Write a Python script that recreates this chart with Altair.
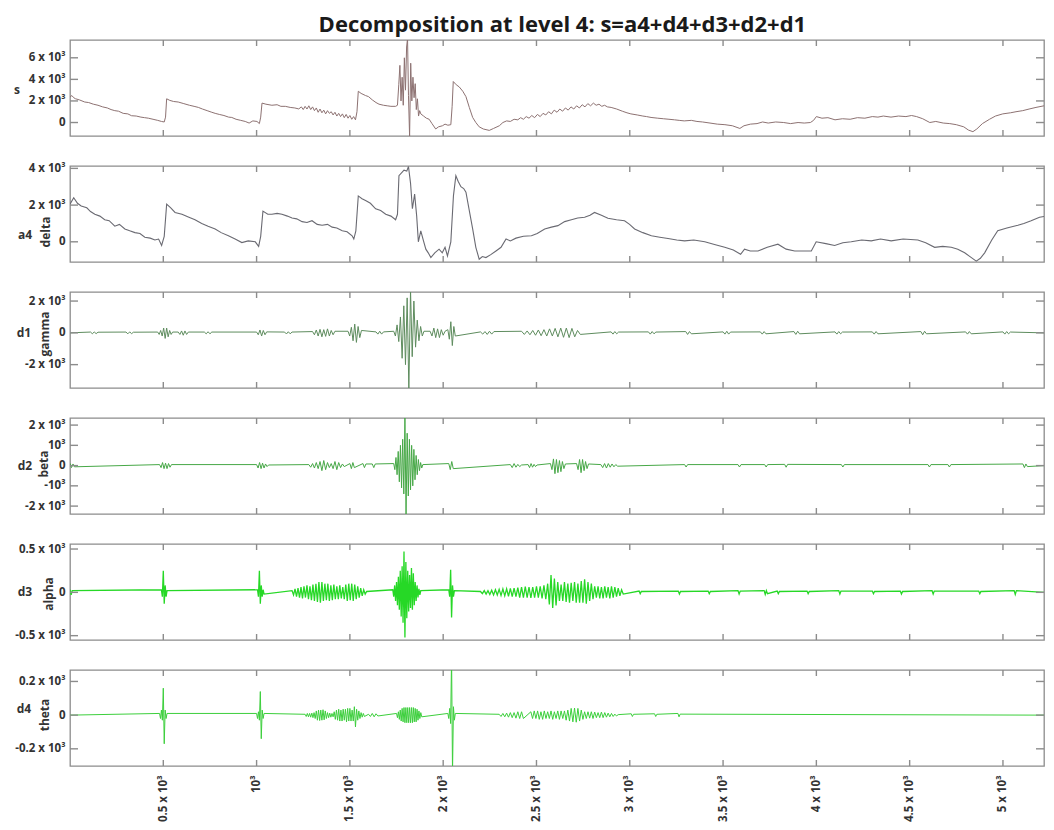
import altair as alt
import pandas as pd

XMAX = 5220
PANEL_W = 974
PANEL_H = 96

X_TICKS = [500, 1000, 1500, 2000, 2500, 3000, 3500, 4000, 4500, 5000]

S_TICKS = [0, 2, 4, 6]
A4_TICKS = [0, 2, 4]
D1_TICKS = [-2, 0, 2]
D2_TICKS = [-2, -1, 0, 1, 2]
D3_TICKS = [-0.5, 0, 0.5]
D4_TICKS = [-0.2, 0, 0.2]

S_DOMAIN = [-1.25, 7.65]
A4_DOMAIN = [-1.1, 4.13]
D1_DOMAIN = [-3.47, 2.57]
D2_DOMAIN = [-2.39, 2.35]
D3_DOMAIN = [-0.55, 0.558]
D4_DOMAIN = [-0.302, 0.268]

# signal s (x = sample, y in units of 10^3)
S_PTS = [
    (0, 2.35), (10, 2.5), (20, 2.3), (30, 2.2), (50, 2.1), (79, 1.9), (100, 1.85), (125, 1.7),
    (150, 1.6), (175, 1.45), (200, 1.35), (220, 1.2), (240, 1.1), (260, 1.05), (285, 0.85),
    (310, 0.8), (330, 0.63), (355, 0.6), (380, 0.5), (400, 0.45), (420, 0.4), (445, 0.3),
    (470, 0.2), (490, 0.1), (505, 0.05), (512, 0.5), (518, 2.2), (535, 2.05), (555, 1.95),
    (580, 1.9), (610, 1.75), (640, 1.6), (665, 1.5), (688, 1.4), (710, 1.25), (735, 1.1),
    (760, 0.95), (778, 0.85), (800, 0.75), (825, 0.65), (850, 0.5), (867, 0.47), (890, 0.3),
    (915, 0.2), (939, 0.1), (960, -0.05), (980, 0.15), (1002, 0.1), (1015, -0.1), (1022, 0.5),
    (1029, 1.8), (1050, 1.7), (1082, 1.6), (1110, 1.65), (1130, 1.5), (1154, 1.5), (1180, 1.4),
    (1205, 1.35), (1226, 1.26), (1240, 1.45), (1250, 1.2), (1260, 1.5), (1270, 1.25),
    (1280, 1.55), (1290, 1.2), (1300, 1.45), (1310, 1.1), (1320, 1.35), (1330, 0.95),
    (1340, 1.25), (1350, 0.9), (1360, 1.15), (1370, 0.8), (1380, 1.1), (1390, 0.85),
    (1400, 1.0), (1410, 0.7), (1420, 0.95), (1430, 0.6), (1440, 0.85), (1450, 0.55),
    (1460, 0.8), (1470, 0.45), (1480, 0.75), (1490, 0.4), (1500, 0.65), (1510, 0.3),
    (1520, 0.55), (1530, 0.25), (1538, 1.0), (1545, 2.9), (1560, 2.7), (1584, 2.5),
    (1600, 2.4), (1620, 2.1), (1640, 1.85), (1656, 1.7), (1680, 1.6), (1700, 1.55),
    (1720, 1.5), (1745, 1.5), (1755, 1.6), (1762, 3.5), (1768, 5.3), (1774, 2.0), (1780, 4.2),
    (1786, 1.6), (1792, 6.0), (1798, 3.0), (1804, 7.0), (1809, 7.8), (1814, 2.5), (1820, -1.3),
    (1826, 5.5), (1832, 2.0), (1838, 4.2), (1844, 2.3), (1850, 3.6), (1856, 1.2), (1862, 2.2),
    (1868, 0.6), (1874, 1.1), (1880, 0.8), (1895, 0.6), (1910, 0.4), (1925, 0.3), (1940, -0.1),
    (1960, -0.6), (1975, -0.4), (1996, -0.3), (2010, -0.15), (2025, -0.25), (2041, -0.2),
    (2048, 1.5), (2054, 3.8), (2070, 3.5), (2086, 3.3), (2105, 2.9), (2122, 2.4), (2140, 1.4),
    (2158, 0.47), (2175, 0.0), (2193, -0.4), (2215, -0.6), (2247, -0.73), (2270, -0.55),
    (2301, -0.3), (2320, 0.0), (2340, 0.15), (2360, 0.1), (2380, 0.3), (2400, 0.25),
    (2415, 0.45), (2430, 0.3), (2445, 0.55), (2460, 0.4), (2475, 0.65), (2490, 0.45),
    (2505, 0.75), (2520, 0.55), (2535, 0.85), (2550, 0.7), (2565, 1.0), (2580, 0.8),
    (2595, 1.15), (2610, 0.95), (2625, 1.25), (2640, 1.05), (2655, 1.35), (2670, 1.15),
    (2685, 1.45), (2700, 1.25), (2715, 1.55), (2730, 1.35), (2745, 1.65), (2760, 1.45),
    (2775, 1.75), (2790, 1.55), (2805, 1.8), (2820, 1.6), (2835, 1.7), (2850, 1.5),
    (2865, 1.6), (2880, 1.45), (2900, 1.4), (2930, 1.25), (2960, 1.05), (2985, 0.9),
    (3006, 0.8), (3040, 0.7), (3070, 0.6), (3090, 0.55), (3114, 0.47), (3150, 0.4),
    (3180, 0.35), (3210, 0.3), (3240, 0.25), (3265, 0.2), (3292, 0.15), (3330, 0.2),
    (3360, 0.1), (3390, 0.05), (3430, -0.05), (3469, -0.15), (3510, -0.2), (3550, -0.3),
    (3590, -0.55), (3612, -0.3), (3647, -0.15), (3682, -0.1), (3712, 0.05), (3742, -0.05),
    (3782, 0.05), (3825, 0.0), (3862, -0.1), (3902, 0.0), (3935, -0.05), (3968, 0.0),
    (3985, 0.2), (4000, 0.55), (4030, 0.4), (4062, 0.45), (4100, 0.25), (4140, 0.35),
    (4181, 0.3), (4220, 0.45), (4260, 0.4), (4300, 0.55), (4330, 0.5), (4359, 0.6),
    (4400, 0.5), (4440, 0.6), (4480, 0.55), (4510, 0.65), (4537, 0.55), (4570, 0.35),
    (4608, 0.0), (4640, 0.1), (4680, -0.05), (4715, -0.1), (4750, -0.2), (4790, -0.4),
    (4815, -0.7), (4839, -0.85), (4860, -0.6), (4890, -0.1), (4928, 0.3), (4960, 0.6),
    (4999, 0.8), (5040, 0.9), (5070, 1.0), (5106, 1.1), (5140, 1.25), (5177, 1.4),
    (5220, 1.55),
]

# approximation a4 (delta)
A4_PTS = [
    (0, 2.05), (20, 2.4), (40, 2.1), (60, 1.95), (90, 1.85), (110, 1.65), (133, 1.5),
    (160, 1.4), (186, 1.2), (210, 1.15), (240, 0.85), (265, 0.95), (294, 0.7), (320, 0.6),
    (348, 0.5), (375, 0.45), (401, 0.25), (430, 0.2), (455, 0.1), (475, 0.15), (491, -0.2),
    (505, 0.3), (518, 2.05), (540, 1.85), (563, 1.6), (600, 1.5), (634, 1.35), (670, 1.2),
    (706, 1.0), (740, 0.85), (778, 0.7), (810, 0.5), (849, 0.33), (885, 0.15), (921, -0.04),
    (955, 0.05), (993, 0.0), (1011, -0.25), (1022, 0.3), (1034, 1.67), (1060, 1.5),
    (1082, 1.5), (1110, 1.55), (1136, 1.5), (1165, 1.4), (1190, 1.3), (1215, 1.25),
    (1244, 1.1), (1270, 1.05), (1297, 1.15), (1325, 0.95), (1351, 0.9), (1380, 0.95),
    (1405, 0.8), (1430, 0.75), (1459, 0.6), (1485, 0.55), (1512, 0.33), (1521, 0.15),
    (1532, 0.6), (1545, 2.5), (1565, 2.35), (1584, 2.25), (1610, 2.1), (1638, 1.8),
    (1665, 1.7), (1692, 1.5), (1720, 1.4), (1745, 1.2), (1755, 1.5), (1763, 3.6),
    (1790, 3.9), (1805, 3.85), (1814, 4.1), (1825, 3.2), (1835, 1.8), (1847, 2.6),
    (1858, 1.4), (1867, 0.0), (1880, 0.6), (1893, 0.1), (1907, -0.4), (1920, -0.6),
    (1934, -0.86), (1955, -0.6), (1978, -0.4), (1995, -0.6), (2010, -0.3), (2023, -0.77),
    (2041, 0.0), (2055, 2.5), (2068, 3.6), (2080, 3.3), (2095, 3.0), (2110, 2.9),
    (2122, 2.7), (2140, 1.7), (2158, 0.7), (2175, -0.3), (2193, -0.95), (2210, -0.8),
    (2229, -0.86), (2255, -0.7), (2283, -0.5), (2310, -0.3), (2337, 0.15), (2360, 0.05),
    (2390, 0.2), (2430, 0.3), (2473, 0.33), (2504, 0.45), (2544, 0.7), (2580, 0.8),
    (2615, 0.88), (2651, 1.1), (2687, 1.2), (2721, 1.3), (2758, 1.34), (2787, 1.45),
    (2811, 1.6), (2848, 1.45), (2883, 1.28), (2929, 1.2), (2972, 1.15), (2999, 0.95),
    (3026, 0.7), (3070, 0.5), (3116, 0.33), (3161, 0.25), (3205, 0.18), (3252, 0.1),
    (3294, 0.05), (3343, 0.1), (3402, 0.0), (3454, -0.15), (3509, -0.3), (3555, -0.45),
    (3594, -0.68), (3615, -0.4), (3646, -0.5), (3687, -0.5), (3737, -0.3), (3794, -0.13),
    (3838, -0.4), (3884, -0.5), (3929, -0.5), (3973, -0.5), (3999, 0.0), (4051, -0.1),
    (4098, -0.2), (4142, -0.05), (4187, 0.0), (4243, 0.1), (4294, 0.05), (4344, 0.15),
    (4401, 0.05), (4465, 0.15), (4544, 0.1), (4586, -0.05), (4634, -0.3), (4677, -0.25),
    (4723, -0.3), (4758, -0.4), (4795, -0.6), (4829, -0.85), (4857, -1.05), (4879, -0.9),
    (4902, -0.6), (4940, 0.1), (4972, 0.6), (5021, 0.75), (5080, 0.9), (5112, 1.0),
    (5151, 1.15), (5196, 1.34), (5220, 1.38),
]

# detail bursts: (start sample, sample step, values in 10^3)
D1_BURSTS = [
    (110, 10, [0.05, -0.06, 0.06, -0.05, 0.04]),
    (300, 10, [0.05, -0.06, 0.06, -0.05, 0.04]),
    (470, 8, [0.05, -0.1, 0.15, -0.2, 0.3, -0.35, 0.3, -0.25, 0.15, -0.1, 0.05]),
    (580, 9, [0.05, -0.1, 0.12, -0.15, 0.12, -0.1, 0.05]),
    (720, 10, [0.05, -0.06, 0.07, -0.06, 0.05]),
    (1000, 9, [0.05, -0.12, 0.18, -0.2, 0.15, -0.12, 0.06]),
    (1150, 10, [0.05, -0.07, 0.07, -0.06, 0.05]),
    (1300, 10, [0.08, -0.12, 0.18, -0.2, 0.22, -0.25, 0.2, -0.22, 0.25, -0.2, 0.15, -0.12, 0.1]),
    (1490, 9, [0.1, -0.2, 0.35, -0.5, 0.55, -0.6, 0.4, -0.3, 0.15]),
    (1640, 10, [0.06, -0.08, 0.1, -0.08, 0.06]),
    (1735, 9, [0.1, -0.2, 0.5, -0.55, 1.0, -1.6, 1.7, -2.0, 2.2, -3.6, 2.7, -1.5, 2.0,
               -0.9, 0.8, -0.5, 0.4, -0.2, 0.1]),
    (1930, 10, [0.1, -0.2, 0.3, -0.3, 0.25, -0.3, 0.2, -0.15, 0.1]),
    (2025, 8, [0.2, -0.4, 0.7, -0.8, 0.4, -0.2]),
    (2200, 12, [0.06, -0.08, 0.08, -0.1, 0.1, -0.08, 0.08]),
    (2420, 15, [0.1, -0.1, 0.12, -0.12, 0.15, -0.15, 0.18, -0.18, 0.2, -0.2, 0.25, -0.2,
                0.28, -0.25, 0.3, -0.28, 0.3, -0.3, 0.28, -0.25, 0.15, -0.1]),
    (2900, 10, [0.06, -0.08, 0.08, -0.06, 0.05]),
    (3100, 10, [0.06, -0.08, 0.08, -0.06, 0.05]),
    (3300, 10, [0.08, -0.1, 0.08, -0.06]),
    (3500, 10, [0.06, -0.08, 0.1, -0.08, 0.05]),
    (3700, 10, [0.06, -0.08, 0.08, -0.06]),
    (3880, 10, [0.08, -0.1, 0.1, -0.06]),
    (4100, 10, [0.06, -0.08, 0.08, -0.06, 0.05]),
    (4300, 10, [0.06, -0.08, 0.08, -0.06]),
    (4560, 10, [0.08, -0.12, 0.1, -0.06]),
    (4800, 10, [0.06, -0.08, 0.08, -0.06]),
    (5000, 10, [0.06, -0.08, 0.08, -0.06, 0.05]),
]

D2_BURSTS = [
    (0, 8, [0.1, -0.1, 0.08, -0.06]),
    (480, 8, [0.05, -0.1, 0.15, -0.15, 0.12, -0.15, 0.1, -0.08, 0.05]),
    (1000, 8, [0.05, -0.12, 0.15, -0.15, 0.12, -0.12, 0.08, -0.05, 0.03]),
    (1280, 10, [0.05, -0.08, 0.1, -0.12, 0.15, -0.15, 0.2, -0.25, 0.25, -0.2, 0.15, -0.1,
                0.1, -0.15, 0.2, -0.2, 0.15, -0.1, 0.08, -0.05]),
    (1500, 8, [0.1, -0.15, 0.15, -0.1]),
    (1570, 8, [0.1, -0.1, 0.08]),
    (1620, 8, [0.08, -0.1, 0.08]),
    (1735, 6, [0.1, -0.2, 0.4, -0.45, 0.7, -0.8, 1.0, -1.1, 1.3, -1.4, 2.4, -2.5, 1.6,
               -1.5, 1.3, -1.2, 1.0, -1.0, 0.8, -0.7, 0.5, -0.45, 0.3, -0.25, 0.15, -0.12,
               0.05]),
    (2030, 8, [0.1, -0.2, 0.2, -0.15]),
    (2360, 10, [0.05, -0.1, 0.1, -0.08, 0.06, -0.05, 0.03]),
    (2455, 8, [0.05, -0.1, 0.1, -0.08, 0.06, -0.05, 0.03]),
    (2575, 8, [0.1, -0.2, 0.33, -0.4, 0.3, -0.35, 0.25, -0.3, 0.2, -0.15, 0.08]),
    (2715, 8, [0.1, -0.2, 0.3, -0.35, 0.3, -0.25, 0.2, -0.15, 0.08]),
    (2845, 10, [0.05, -0.1, 0.1, -0.12, 0.1, -0.08, 0.08, -0.06, 0.05, -0.03]),
    (3294, 8, [0.05, -0.07, 0.05]),
    (3580, 8, [0.05, -0.07, 0.05]),
    (3723, 8, [0.05, -0.07, 0.05]),
    (3830, 8, [0.06, -0.08, 0.06]),
    (4134, 8, [0.05, -0.07, 0.05]),
    (4598, 8, [0.05, -0.07, 0.05]),
    (4705, 8, [0.05, -0.07, 0.05]),
    (5107, 8, [0.08, -0.1, 0.08, -0.05]),
]

D3_BURSTS = [
    (0, 6, [0.03, -0.03, 0.02]),
    (490, 5, [0.03, -0.05, 0.25, -0.13, 0.08, -0.05, 0.02]),
    (1005, 5, [0.03, -0.05, 0.25, -0.13, 0.08, -0.05, 0.03, -0.02]),
    (1190, 8, [0.02, -0.03, 0.04, -0.05, 0.05, -0.06, 0.06, -0.07, 0.07, -0.06,
               0.08, -0.08, 0.07, -0.09, 0.09, -0.1, 0.1, -0.11, 0.12, -0.12,
               0.12, -0.1, 0.1, -0.09, 0.1, -0.1, 0.08, -0.09, 0.09, -0.08,
               0.07, -0.08, 0.08, -0.07, 0.06, -0.08, 0.09, -0.1, 0.1, -0.09,
               0.1, -0.1, 0.09, -0.08, 0.07, -0.06, 0.05, -0.04, 0.03, -0.02, 0.01]),
    (1730, 5, [0.03, -0.05, 0.08, -0.1, 0.12, -0.15, 0.18, -0.2, 0.25, -0.28, 0.3, -0.35,
               0.47, -0.52, 0.35, -0.3, 0.25, -0.22, 0.2, -0.18, 0.28, -0.2, 0.22, -0.15,
               0.12, -0.1, 0.08, -0.06, 0.04, -0.03, 0.02]),
    (2030, 5, [0.03, -0.05, 0.26, -0.29, 0.08, -0.05, 0.02]),
    (2200, 10, [0.01, -0.015, 0.02, -0.02, 0.02, -0.025, 0.025, -0.03, 0.03, -0.03, 0.035,
                -0.035, 0.04, -0.04, 0.04, -0.045, 0.045, -0.05, 0.05, -0.05, 0.055, -0.06,
                0.06, -0.06, 0.065, -0.06, 0.06, -0.065, 0.06, -0.06, 0.07, -0.06, 0.07,
                -0.07, 0.08, -0.08]),
    (2560, 9, [0.1, -0.14, 0.2, -0.18, 0.16, -0.15, 0.12, -0.1, 0.09, -0.1, 0.12, -0.11,
               0.1, -0.12, 0.11, -0.1, 0.12, -0.12, 0.1, -0.12, 0.13, -0.12, 0.15, -0.13,
               0.12, -0.1, 0.1, -0.08, 0.07, -0.06, 0.07, -0.07, 0.06, -0.07, 0.07, -0.06,
               0.06, -0.07, 0.07, -0.06, 0.06, -0.05, 0.05, -0.04, 0.03, -0.02]),
    (3050, 6, [0.015, -0.015, 0.01]),
    (3260, 6, [0.015, -0.02, 0.01]),
    (3420, 6, [0.015, -0.015, 0.01]),
    (3580, 6, [0.02, -0.02, 0.015]),
    (3720, 6, [0.02, -0.025, 0.02, -0.015]),
    (3790, 6, [0.015, -0.015, 0.01]),
    (3950, 6, [0.015, -0.015, 0.01]),
    (4120, 6, [0.02, -0.02, 0.015]),
    (4300, 6, [0.015, -0.015, 0.01]),
    (4450, 6, [0.015, -0.02, 0.01]),
    (4620, 6, [0.02, -0.02, 0.015]),
    (4870, 6, [0.015, -0.015, 0.01]),
    (5060, 6, [0.02, -0.025, 0.02]),
]

D4_BURSTS = [
    (480, 5, [0.01, -0.02, 0.03, -0.03, 0.16, -0.17, 0.03, -0.02, 0.01]),
    (1000, 5, [0.01, -0.02, 0.02, -0.03, 0.14, -0.14, 0.03, -0.02, 0.01]),
    (1260, 6, [0.005, -0.008, 0.01, -0.01, 0.01, -0.012, 0.012, -0.015, 0.015, -0.02,
               0.025, -0.03, 0.03, -0.032, 0.03, -0.03, 0.032, -0.028, 0.025, -0.02,
               0.015, -0.015, 0.012, -0.012, 0.01, -0.01]),
    (1416, 6, [0.02, -0.025, 0.03, -0.03, 0.035, -0.035, 0.03, -0.035, 0.035, -0.03,
               0.035, -0.04, 0.04, -0.035, 0.04, -0.035, 0.03, -0.035, 0.05, -0.07,
               0.035, -0.03, 0.025, -0.02, 0.015, -0.012, 0.01, -0.008]),
    (1600, 10, [0.005, -0.008, 0.01, -0.01, 0.008, -0.005]),
    (1750, 5, [0.01, -0.015, 0.02, -0.025, 0.03, -0.035, 0.04, -0.04, 0.045, -0.045,
               0.045, -0.045, 0.045, -0.045, 0.045, -0.045, 0.045, -0.045, 0.045, -0.04,
               0.04, -0.04, 0.035, -0.03, 0.025, -0.02, 0.015, -0.01]),
    (2025, 5, [0.01, -0.02, 0.04, -0.05, 0.35, -0.35, 0.05, -0.03, 0.01]),
    (2300, 10, [0.005, -0.008, 0.01, -0.01, 0.012, -0.012, 0.015, -0.015, 0.015, -0.018,
                0.02, -0.02, 0.02, -0.02]),
    (2470, 9, [0.02, -0.02, 0.025, -0.02, 0.025, -0.025, 0.02, -0.025, 0.025, -0.02,
               0.02, -0.02, 0.025, -0.025, 0.02, -0.02, 0.025, -0.025, 0.025, -0.02,
               0.025, -0.03, 0.03, -0.035, 0.04, -0.04, 0.042, -0.042, 0.04, -0.035,
               0.03, -0.025, 0.02, -0.02, 0.02, -0.018, 0.02, -0.02, 0.018, -0.015,
               0.015, -0.015, 0.018, -0.015, 0.015, -0.012, 0.012, -0.01, 0.01, -0.008,
               0.006, -0.005, 0.003]),
    (3008, 6, [0.008, -0.008, 0.005]),
    (3133, 6, [0.008, -0.008, 0.005]),
    (3258, 6, [0.01, -0.01, 0.006]),
]

# label text per panel: (text, x offset, y offset, angle)
S_LABELS = [("s", -53, 50, 0)]
A4_LABELS = [("a4", -45, 69, 0), ("delta", -24, 66, 270)]
D1_LABELS = [("d1", -46, 41, 0), ("gamma", -25, 42, 270)]
D2_LABELS = [("d2", -45, 48, 0), ("beta", -26, 46, 270)]
D3_LABELS = [("d3", -45, 48, 0), ("alpha", -21, 50, 270)]
D4_LABELS = [("d4", -46, 39, 0), ("theta", -25, 45, 270)]

TITLE = "Decomposition at level 4: s=a4+d4+d3+d2+d1"

FRAME = "#8c8c8c"
FONT = "Open Sans"
TXT = "#333333"
TICK_FS = 11.5


def pts_df(pts):
    return pd.DataFrame(pts, columns=["x", "y"])


def burst_df(bursts):
    xs, ys = [0], [0.0]
    for x0, step, vals in bursts:
        for i, v in enumerate(vals):
            xs.append(x0 + i * step)
            ys.append(v)
    xs.append(XMAX)
    ys.append(0.0)
    return pd.DataFrame({"x": xs, "y": ys})


Y_LABEL_EXPR = ("datum.value == 0 ? '0' : (abs(datum.value) == 1 ? "
                "(datum.value < 0 ? '-10³' : '10³') : datum.value + ' x 10³')")
X_LABEL_EXPR = "datum.value == 1000 ? '10³' : (datum.value / 1000) + ' x 10³'"


def panel(df, domain, yticks, color, labels, width=1.0, bottom=False):
    xscale = alt.Scale(domain=[0, XMAX], nice=False, zero=False)
    yscale = alt.Scale(domain=domain, nice=False, zero=False)
    if bottom:
        xaxis = alt.Axis(values=X_TICKS, labelExpr=X_LABEL_EXPR, labelAngle=270,
                         labelAlign="right", labelBaseline="middle", labelPadding=9,
                         ticks=False, domain=False, grid=False, title=None,
                         labelFlush=False, labelOverlap=False, labelFont=FONT,
                         labelFontSize=TICK_FS, labelFontWeight="bold", labelColor=TXT)
    else:
        xaxis = None
    yaxis = alt.Axis(values=yticks, labelExpr=Y_LABEL_EXPR, ticks=False, domain=False,
                     grid=False, title=None, labelPadding=5, labelFlush=False,
                     labelOverlap=False, labelFont=FONT, labelFontSize=TICK_FS,
                     labelFontWeight="bold", labelColor=TXT)
    line = alt.Chart(df).mark_line(color=color, strokeWidth=width, clip=True).encode(
        x=alt.X("x:Q", scale=xscale, axis=xaxis),
        y=alt.Y("y:Q", scale=yscale, axis=yaxis),
    )
    xt = pd.DataFrame({"x": X_TICKS})
    yt = pd.DataFrame({"y": yticks})
    tick_style = dict(color=FRAME, strokeWidth=1.4)
    xb = alt.Chart(xt).mark_rule(**tick_style).encode(
        x=alt.X("x:Q", scale=xscale, axis=xaxis),
        y=alt.value(PANEL_H), y2=alt.value(PANEL_H - 6))
    xtp = alt.Chart(xt).mark_rule(**tick_style).encode(
        x=alt.X("x:Q", scale=xscale, axis=xaxis),
        y=alt.value(0), y2=alt.value(6))
    yl = alt.Chart(yt).mark_rule(**tick_style).encode(
        y=alt.Y("y:Q", scale=yscale, axis=yaxis),
        x=alt.value(0), x2=alt.value(8))
    yr = alt.Chart(yt).mark_rule(**tick_style).encode(
        y=alt.Y("y:Q", scale=yscale, axis=yaxis),
        x=alt.value(PANEL_W - 8), x2=alt.value(PANEL_W))
    layers = [line, xb, xtp, yl, yr]
    for txt, dx, dy, ang in labels:
        kw = dict(font=FONT, fontSize=12, fontWeight="bold",
                  color=TXT, align="center", baseline="middle")
        if ang:
            kw["angle"] = ang
        layers.append(
            alt.Chart(pd.DataFrame({"t": [txt]})).mark_text(**kw).encode(
                x=alt.value(dx), y=alt.value(dy), text="t:N"))
    return alt.layer(*layers).properties(width=PANEL_W, height=PANEL_H)


p_s = panel(pts_df(S_PTS), S_DOMAIN, S_TICKS, "#8d7272", S_LABELS, 1.0)
p_a4 = panel(pts_df(A4_PTS), A4_DOMAIN, A4_TICKS, "#6a6a72", A4_LABELS, 1.1)
p_d1 = panel(burst_df(D1_BURSTS), D1_DOMAIN, D1_TICKS, "#5e8c5e", D1_LABELS, 1.0)
p_d2 = panel(burst_df(D2_BURSTS), D2_DOMAIN, D2_TICKS, "#47a847", D2_LABELS, 1.0)
p_d3 = panel(burst_df(D3_BURSTS), D3_DOMAIN, D3_TICKS, "#26d826", D3_LABELS, 1.3)
p_d4 = panel(burst_df(D4_BURSTS), D4_DOMAIN, D4_TICKS, "#3ccf3c", D4_LABELS, 1.0,
             bottom=True)

chart = alt.vconcat(
    p_s, p_a4, p_d1, p_d2, p_d3, p_d4, spacing=30, bounds="flush",
    title=alt.TitleParams(TITLE, font=FONT, fontSize=22, fontWeight="bold",
                          color="#1a1a1a", anchor="middle", dx=33, offset=2),
)
chart = chart.configure_view(stroke=FRAME, strokeWidth=1.3).properties(
    padding={"left": 5, "top": 5, "right": 0, "bottom": 0},
    background="white",
)

chart.save("out.html", embed_options={"renderer": "svg", "actions": False})
